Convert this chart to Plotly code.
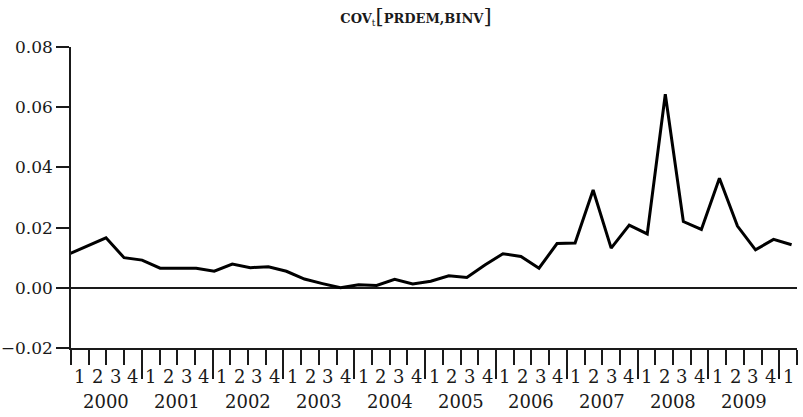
import plotly.graph_objects as go

# Quarterly covariance series, 2000Q1 .. 2010Q1
years = ["2000", "2001", "2002", "2003", "2004", "2005", "2006", "2007", "2008", "2009"]
quarter_labels = ["1", "2", "3", "4"] * 10 + ["1"]
cov_values = [
    0.0114, 0.0140, 0.0166, 0.0100, 0.0092, 0.0065, 0.0065, 0.0065,
    0.0055, 0.0079, 0.0067, 0.0070, 0.0055, 0.0029, 0.0014, 0.0000,
    0.0010, 0.0008, 0.0028, 0.0013, 0.0022, 0.0040, 0.0034, 0.0076,
    0.0113, 0.0104, 0.0065, 0.0147, 0.0149, 0.0325, 0.0132, 0.0208,
    0.0179, 0.0643, 0.0220, 0.0194, 0.0364, 0.0205, 0.0126, 0.0161,
    0.0143,
]
y_ticks = [-0.02, 0.00, 0.02, 0.04, 0.06, 0.08]

n = len(cov_values)
n_int = len(quarter_labels)
FONT = "DejaVu Serif"
INK = "#1a1a1a"

fig = go.Figure()
fig.add_trace(go.Scatter(
    x=list(range(n)), y=cov_values, mode="lines",
    line=dict(color="black", width=3), xaxis="x", yaxis="y",
    showlegend=False, hoverinfo="skip",
))
# invisible trace so the quarter-interval axis is drawn
fig.add_trace(go.Scatter(
    x=[0, n_int], y=[None, None], mode="lines", xaxis="x2", yaxis="y",
    showlegend=False, hoverinfo="skip",
))

annotations = []
for k, q in enumerate(quarter_labels):
    annotations.append(dict(
        x=k + 0.5, y=0, xref="x2", yref="paper", text=q, showarrow=False,
        yshift=-28, font=dict(family=FONT, size=18, color=INK),
        xanchor="center", yanchor="middle",
    ))
for j, yr in enumerate(years):
    annotations.append(dict(
        x=4 * j + 2, y=0, xref="x2", yref="paper", text=yr, showarrow=False,
        yshift=-53, font=dict(family=FONT, size=18, color=INK),
        xanchor="center", yanchor="middle",
    ))

fig.update_layout(
    width=803, height=417,
    margin=dict(l=71, r=6, t=47, b=69, autoexpand=False),
    paper_bgcolor="white", plot_bgcolor="white",
    title=dict(
        text=("<b>COV</b><sub>t</sub><span style='font-size:21px'>[</span>"
              "<b>PRDEM,BINV</b><span style='font-size:21px'>]</span>"),
        x=0.518, xref="container", xanchor="center",
        y=0.955, yref="container", yanchor="middle",
        font=dict(family=FONT, size=13, color=INK),
    ),
    xaxis=dict(
        range=[0.06, n - 0.7], domain=[0, 1], visible=False, automargin=False,
        showgrid=False, zeroline=False, fixedrange=True,
    ),
    xaxis2=dict(
        range=[0, n_int], domain=[0, 1], overlaying="x", anchor="y", side="bottom",
        automargin=False,
        showgrid=False, zeroline=False, showline=True, linecolor=INK, linewidth=1.5,
        tickmode="array", tickvals=list(range(4, n_int, 4)), showticklabels=False,
        ticks="outside", ticklen=29, tickwidth=1.5, tickcolor=INK,
        minor=dict(tickmode="linear", tick0=0, dtick=1, ticks="outside",
                   ticklen=15, tickwidth=1.5, tickcolor=INK, showgrid=False),
    ),
    yaxis=dict(
        range=[-0.02, 0.08], tickmode="array", tickvals=y_ticks, tickformat=".2f",
        automargin=False,
        showgrid=False, showline=True, linecolor=INK, linewidth=1.5,
        ticks="outside", ticklen=13, tickwidth=1.5, tickcolor=INK,
        tickfont=dict(family=FONT, size=17, color=INK),
        zeroline=True, zerolinecolor=INK, zerolinewidth=1.5,
    ),
    annotations=annotations,
)

fig.write_html("out.html")
